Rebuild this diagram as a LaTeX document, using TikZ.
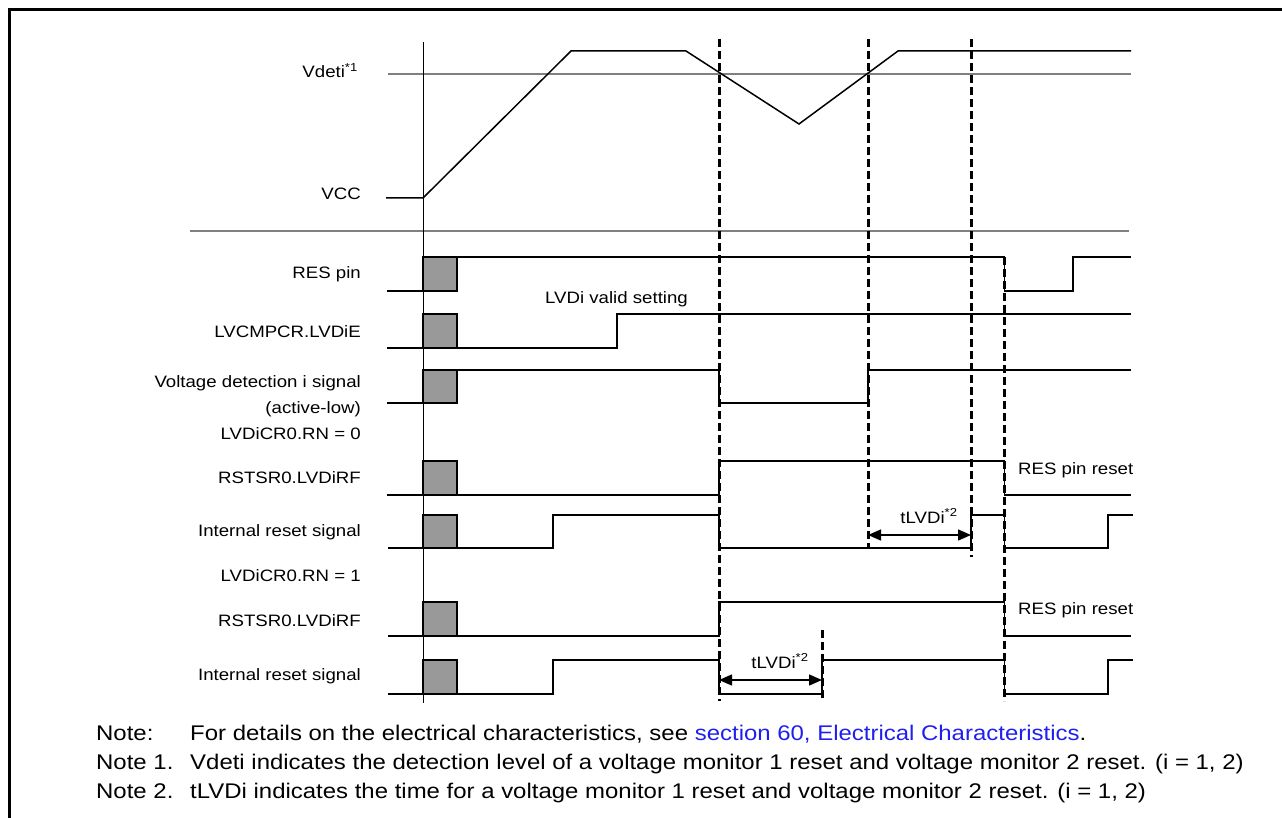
\documentclass[tikz,border=0pt]{standalone}
\usepackage{fontspec}
\setmainfont[FakeStretch=1.13]{Liberation Sans}
\usetikzlibrary{arrows.meta}
\definecolor{TimGray}{HTML}{999999}
\definecolor{TimLevel}{HTML}{808080}
\definecolor{TimLink}{HTML}{1F1FF0}
\tikzset{
  wave/.style={line width=1.5pt,line join=miter},
  level/.style={draw=TimLevel,line width=1.8pt},
  timemark/.style={line width=3pt,dash pattern=on 8pt off 4pt},
  initbox/.style={fill=TimGray,draw=black,line width=1.4pt},
  siglabel/.style={anchor=base east,inner sep=0pt,font=\fontsize{16.5}{19}\selectfont},
  sidelabel/.style={anchor=base west,inner sep=0pt,font=\fontsize{16.5}{19}\selectfont},
  spanlabel/.style={anchor=base,inner sep=0pt,font=\fontsize{16.5}{19}\selectfont},
  spanarrow/.style={{Triangle[length=13pt,width=11pt]}-{Triangle[length=13pt,width=11pt]},line width=1.5pt},
  notetext/.style={anchor=base west,inner sep=0pt,font=\fontsize{21.2}{25}\selectfont}
}

\begin{document}
\begin{tikzpicture}[x=1pt,y=-1pt]
  \useasboundingbox (0,0) rectangle (1282,818);

  % frame
  \draw[line width=3pt] (9,818) -- (9,10) -- (1282,10);

  % signal names
  \node[siglabel] (vdetlbl) at (358,78) {Vdeti\textsuperscript{*1}};
  \node[siglabel] (vcclbl) at (361,200) {VCC};
  \node[siglabel] (reslbl) at (361,279) {RES pin};
  \node[siglabel] (lvelbl) at (361,337) {LVCMPCR.LVDiE};
  \node[siglabel] (vdlbl) at (361,387) {Voltage detection i signal};
  \node[siglabel] (actlbl) at (361,413) {(active-low)};
  \node[siglabel] (rn0lbl) at (361,439) {LVDiCR0.RN = 0};
  \node[siglabel] (rfalbl) at (361,483) {RSTSR0.LVDiRF};
  \node[siglabel] (irsalbl) at (361,536) {Internal reset signal};
  \node[siglabel] (rn1lbl) at (361,581) {LVDiCR0.RN = 1};
  \node[siglabel] (rfblbl) at (361,626) {RSTSR0.LVDiRF};
  \node[siglabel] (irsblbl) at (361,680) {Internal reset signal};

  % levels
  \draw[level] (388,74) -- (1131,74);
  \draw[level] (190,231) -- (1129,231);
  \draw[line width=1pt] (423,42) -- (423,703);

  % time marks
  \draw[timemark] (719,39) -- (719,701);
  \draw[timemark] (868,39) -- (868,548);
  \draw[timemark] (971,39) -- (971,557);
  \draw[timemark] (1004.5,257) -- (1004.5,701);
  \draw[timemark] (822,630) -- (822,701);

  % VCC
  \draw[wave] (386,198) -- (423,198) -- (571,51) -- (686,51) -- (799,124) -- (898,51) -- (1131,51);

  % RES pin
  \draw[wave] (387,291) -- (457,291);
  \draw[wave] (457,257) -- (1004.5,257) -- (1004.5,291) -- (1073,291) -- (1073,257) -- (1131,257);
  \draw[initbox] (423,257) rectangle (457,291);

  % LVCMPCR.LVDiE
  \draw[wave] (387,348) -- (617,348) -- (617,314) -- (1131,314);
  \draw[initbox] (423,314) rectangle (457,348);
  \node[sidelabel] (validlbl) at (545,303) {LVDi valid setting};

  % voltage detection
  \draw[wave] (387,403) -- (457,403);
  \draw[wave] (457,370) -- (719,370) -- (719,403) -- (868,403) -- (868,370) -- (1131,370);
  \draw[initbox] (423,370) rectangle (457,403);

  % RN = 0
  \draw[wave] (387,495) -- (719,495) -- (719,461) -- (1004.5,461) -- (1004.5,495) -- (1131,495);
  \draw[initbox] (423,461) rectangle (457,495);
  \node[sidelabel] (resrsta) at (1018,474) {RES pin reset};

  \draw[wave] (388,548) -- (553,548) -- (553,515) -- (719,515) -- (719,548) -- (971,548) -- (971,515)
    -- (1004.5,515) -- (1004.5,548) -- (1108,548) -- (1108,515) -- (1133,515);
  \draw[initbox] (423,515) rectangle (457,548);
  \coordinate (spana0) at (868,535);
  \coordinate (spana1) at (971,535);
  \draw[spanarrow] (spana0) -- (spana1);
  \node[spanlabel] (tlvda) at (929,523) {tLVDi\textsuperscript{*2}};

  % RN = 1
  \draw[wave] (388,636) -- (719,636) -- (719,602) -- (1004.5,602) -- (1004.5,636) -- (1131,636);
  \draw[initbox] (423,602) rectangle (457,636);
  \node[sidelabel] (resrstb) at (1018,614) {RES pin reset};

  \draw[wave] (388,694) -- (553,694) -- (553,660) -- (719,660) -- (719,694) -- (822,694) -- (822,660)
    -- (1004.5,660) -- (1004.5,694) -- (1108,694) -- (1108,660) -- (1133,660);
  \draw[initbox] (423,660) rectangle (457,694);
  \coordinate (spanb0) at (719,680);
  \coordinate (spanb1) at (822,680);
  \draw[spanarrow] (spanb0) -- (spanb1);
  \node[spanlabel] (tlvdb) at (780,668) {tLVDi\textsuperscript{*2}};

  % notes
  \node[notetext] (note0) at (96,740) {Note:};
  \node[notetext] (note0t) at (190,740) {For details on the electrical characteristics, see \textcolor{TimLink}{section 60, Electrical Characteristics}.};
  \node[notetext] (note1) at (96,769) {Note 1.};
  \node[notetext] (note1t) at (190,769) {Vdeti indicates the detection level of a voltage monitor 1 reset and voltage monitor 2 reset. (i = 1, 2)};
  \node[notetext] (note2) at (96,798) {Note 2.};
  \node[notetext] (note2t) at (190,798) {tLVDi indicates the time for a voltage monitor 1 reset and voltage monitor 2 reset. (i = 1, 2)};
\end{tikzpicture}
\end{document}
